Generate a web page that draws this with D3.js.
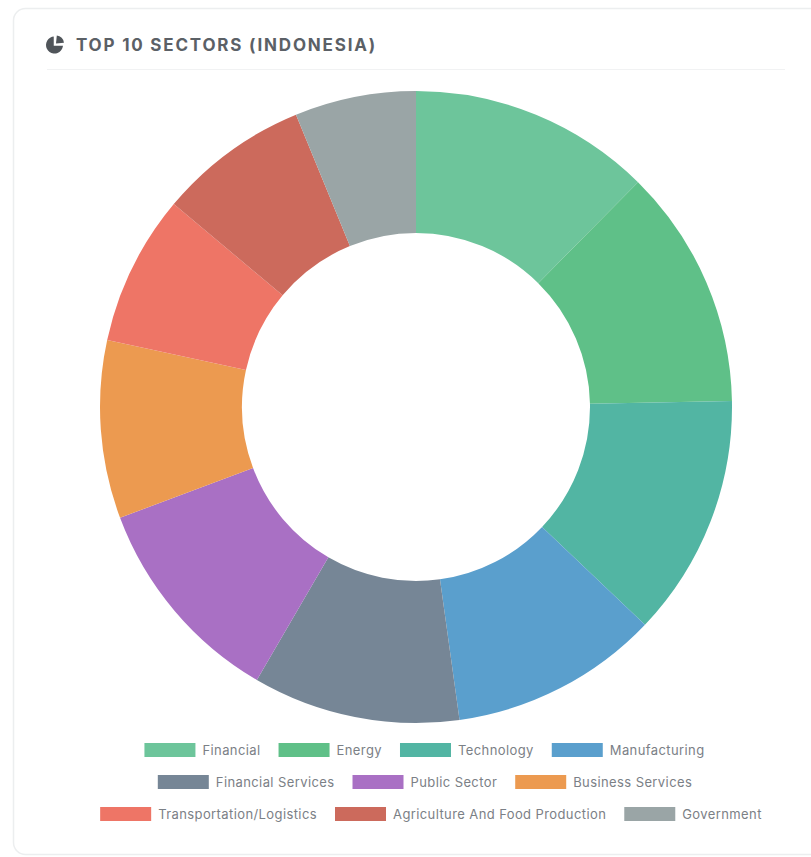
<!DOCTYPE html>
<html>
<head>
<meta charset="utf-8">
<script src="https://cdn.jsdelivr.net/npm/d3@7"></script>
<style>
  html, body { margin: 0; padding: 0; background: #fff; }
  svg { display: block; }
  text { font-family: Inter, sans-serif; }
</style>
</head>
<body>
<svg id="chart" width="811" height="857"></svg>
<script>
// Sector shares, in percent of the top ten
const sectors = ["Financial", "Energy", "Technology", "Manufacturing", "Financial Services",
  "Public Sector", "Business Services", "Transportation/Logistics",
  "Agriculture And Food Production", "Government"];
const shares = [12.4, 12.3, 12.4, 10.7, 10.6, 10.9, 9.1, 7.7, 7.7, 6.2];
const colors = ["#6dc59b", "#5fc088", "#52b5a3", "#5a9fcd", "#768696",
  "#a970c4", "#ec9a50", "#ee7566", "#cc6a5c", "#9aa5a6"];
const legendRows = [[0, 1, 2, 3], [4, 5, 6], [7, 8, 9]];
const titleText = "TOP 10 SECTORS (INDONESIA)";

const svg = d3.select("#chart");

// Card
svg.append("rect").attr("x", 13.5).attr("y", 8.5).attr("width", 830).attr("height", 846)
  .attr("rx", 12).attr("fill", "#fff").attr("stroke", "#eceeef").attr("stroke-width", 1.5);

// Header: small pie glyph, title, divider
const glyph = svg.append("g").attr("transform", "translate(54.5,45)");
const glyphArc = d3.arc();
glyph.append("path").attr("fill", "#50555a")
  .attr("d", glyphArc({ innerRadius: 0, outerRadius: 8.5, startAngle: 0.3, endAngle: 2 * Math.PI - 0.05 }));
glyph.append("path").attr("fill", "#fff").attr("stroke", "#fff").attr("stroke-width", 1.5)
  .attr("d", glyphArc({ innerRadius: 0, outerRadius: 9.5, startAngle: 0, endAngle: Math.PI / 2 }));
glyph.append("path").attr("fill", "#50555a").attr("transform", "translate(1.5,-1.5)")
  .attr("d", glyphArc({ innerRadius: 0, outerRadius: 8, startAngle: 0.1, endAngle: Math.PI / 2 - 0.1 }));

svg.append("text").attr("x", 76).attr("y", 51)
  .attr("font-size", 17).attr("font-weight", 700).attr("letter-spacing", 1.8)
  .attr("fill", "#5b6066").text(titleText);
svg.append("line").attr("x1", 47).attr("x2", 785).attr("y1", 69.5).attr("y2", 69.5)
  .attr("stroke", "#f1f2f3").attr("stroke-width", 1);

// Doughnut
const pie = d3.pie().value(d => d).sort(null);
const arc = d3.arc().innerRadius(174).outerRadius(316);
svg.append("g").attr("transform", "translate(416,407)")
  .selectAll("path").data(pie(shares)).join("path")
  .attr("d", arc).attr("fill", (d, i) => colors[i]);

// Legend: centred rows of swatch + label
const boxW = 51, boxH = 14, boxGap = 7, itemGap = 18;
const legendFont = 13, legendTracking = 0.4;
const legend = svg.append("g");
legendRows.forEach((row, r) => {
  const cy = 750 + r * 32;
  const g = legend.append("g");
  let x = 0;
  row.forEach(i => {
    g.append("rect").attr("x", x).attr("y", cy - boxH / 2).attr("width", boxW).attr("height", boxH)
      .attr("fill", colors[i]);
    const t = g.append("text").attr("x", x + boxW + boxGap).attr("y", cy + 4.5)
      .attr("font-size", legendFont).attr("letter-spacing", legendTracking)
      .attr("fill", "#7b8086").text(sectors[i]);
    x += boxW + boxGap + t.node().getComputedTextLength() + itemGap;
  });
  g.attr("transform", `translate(${[424.5, 425, 431][r] - (x - itemGap) / 2},0)`);
});
</script>
</body>
</html>
